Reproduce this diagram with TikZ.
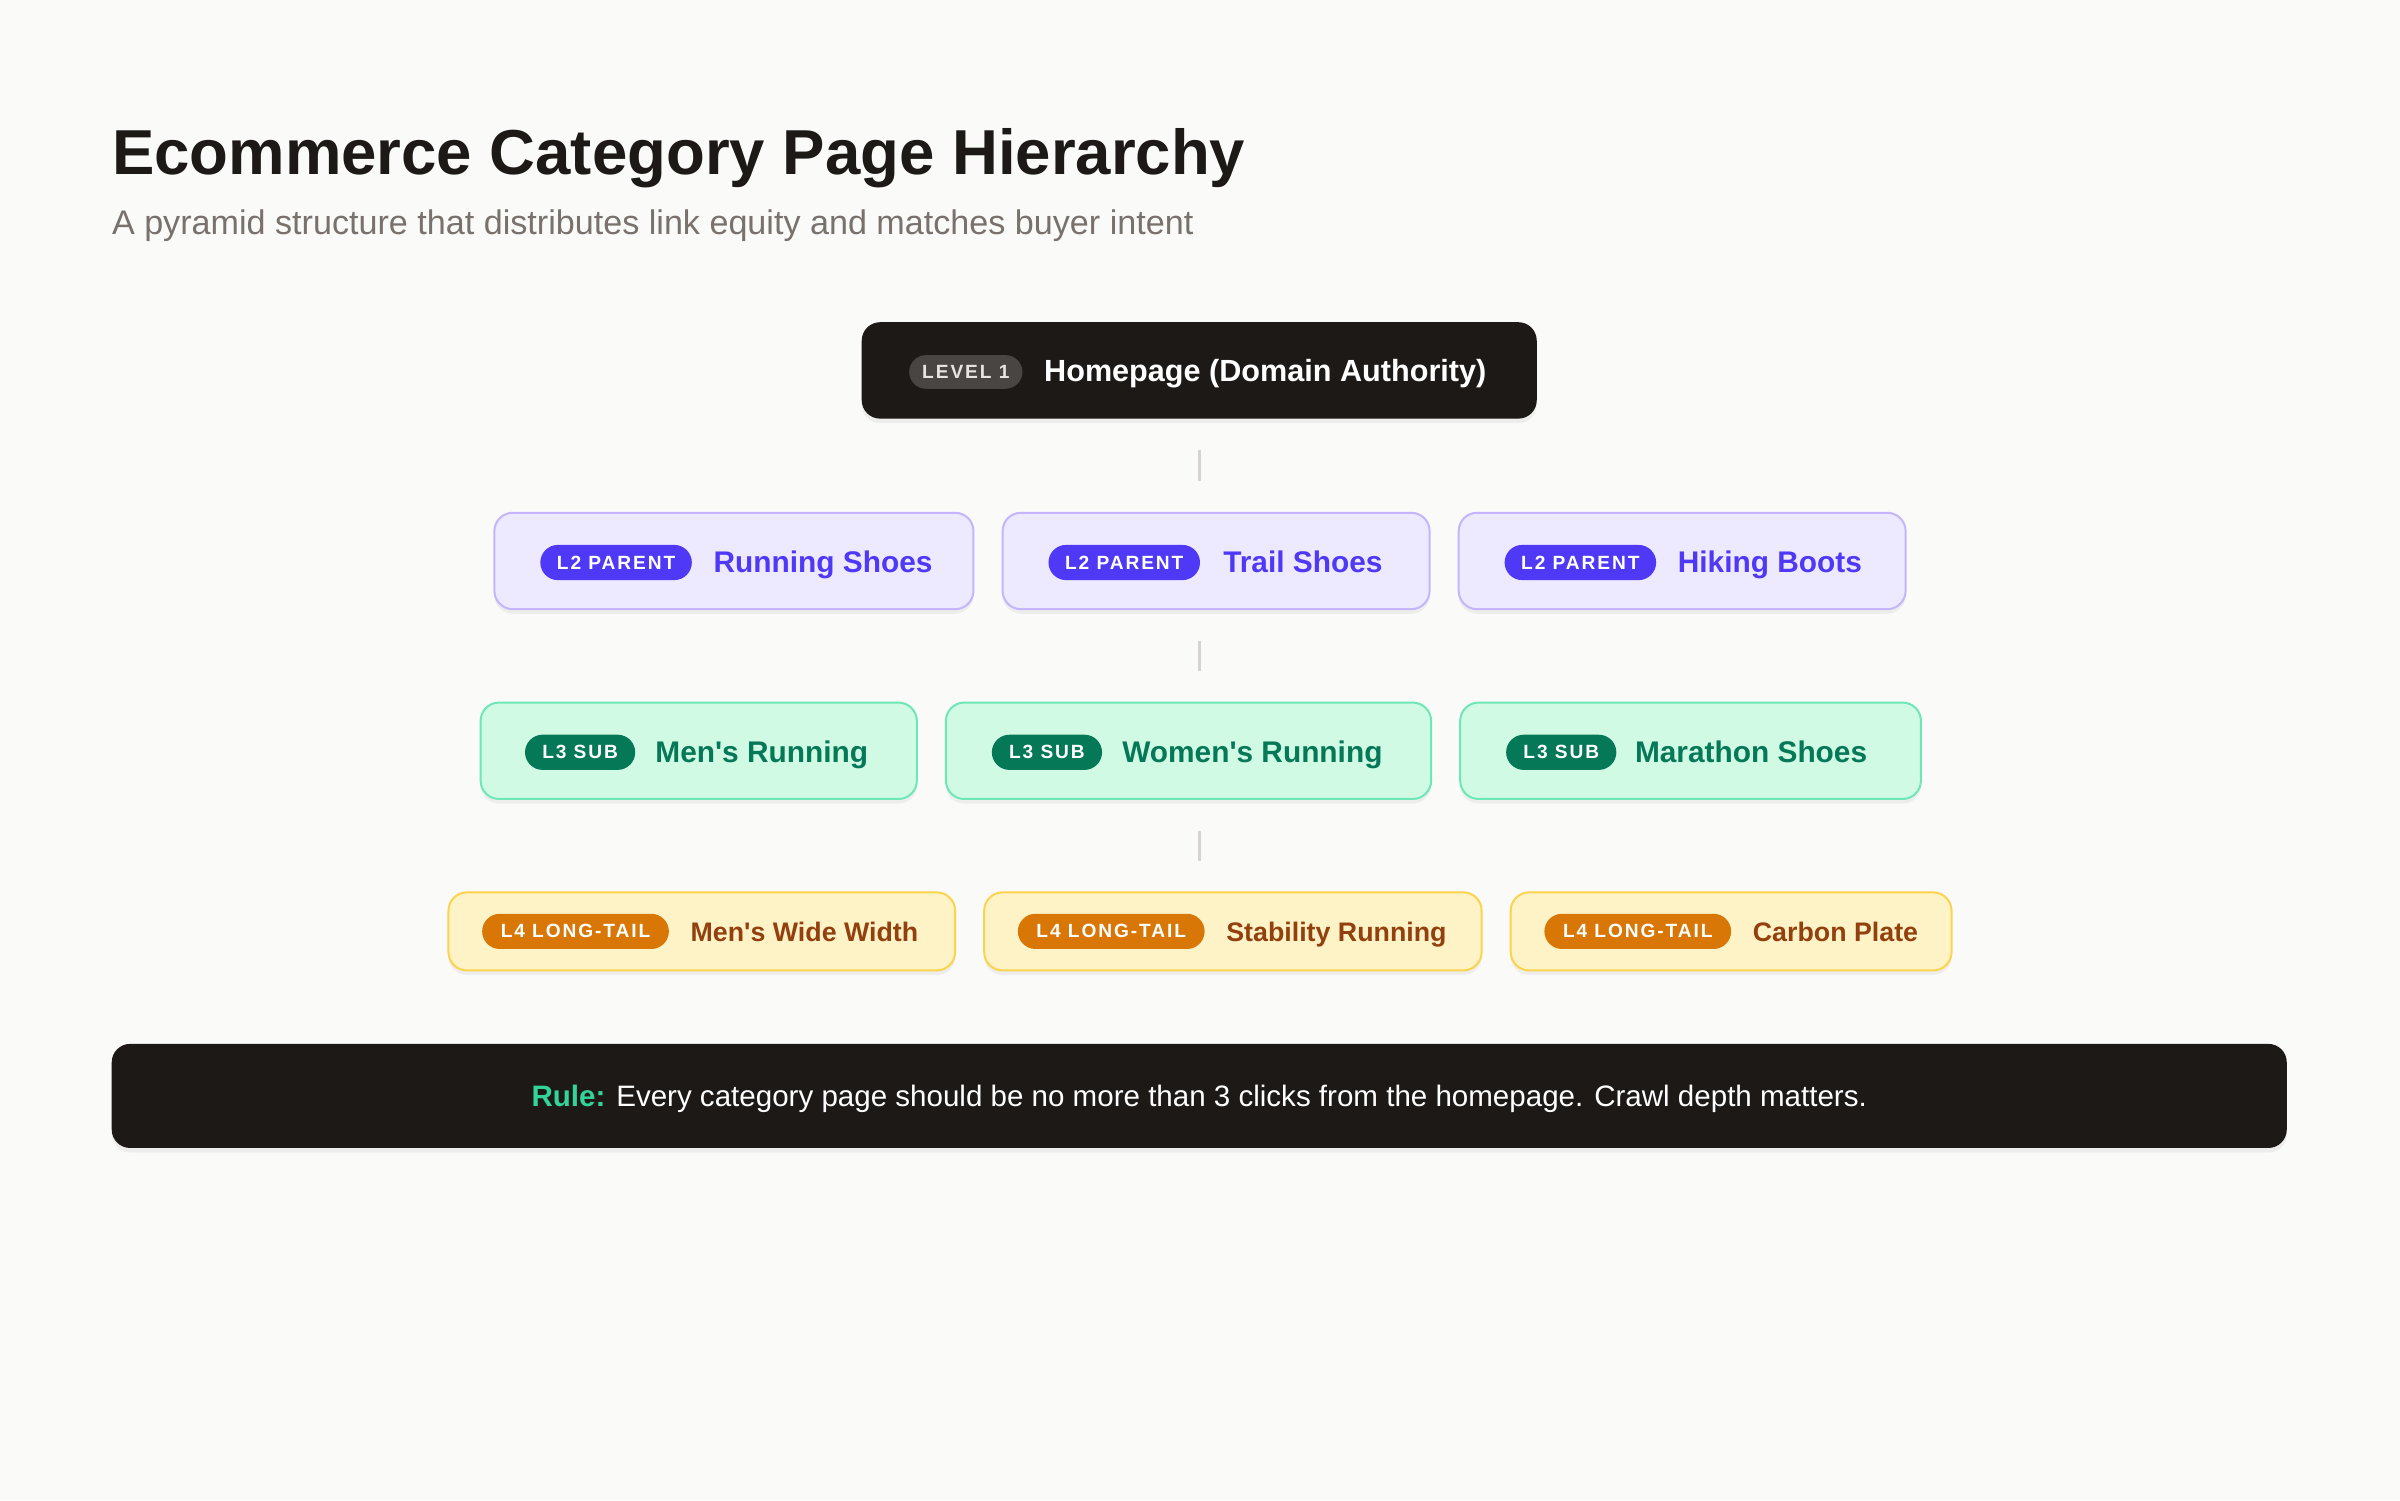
\documentclass[tikz,border=0pt]{standalone}
\usepackage{fontspec}
\setmainfont{Liberation Sans}
\newfontfamily\badgefont{Liberation Sans}[LetterSpace=10]
\usetikzlibrary{shadows}
\definecolor{bg}{HTML}{FAFAF9}
\definecolor{ink}{HTML}{1C1917}
\definecolor{subgray}{HTML}{78716C}
\definecolor{conn}{HTML}{D6D3D1}
\definecolor{lvbadge}{HTML}{494543}
\definecolor{lvtext}{HTML}{E7E5E4}
\definecolor{vfill}{HTML}{EDE9FE}
\definecolor{vline}{HTML}{C4B5FD}
\definecolor{vdark}{HTML}{4F39F6}
\definecolor{gfill}{HTML}{D1FAE5}
\definecolor{gline}{HTML}{6EE7B7}
\definecolor{gdark}{HTML}{047857}
\definecolor{yfill}{HTML}{FEF3C7}
\definecolor{yline}{HTML}{FCD34D}
\definecolor{ybadge}{HTML}{D97706}
\definecolor{ytext}{HTML}{92400E}
\definecolor{rulegreen}{HTML}{34D399}
\newcommand{\myfs}[1]{\fontsize{#1}{#1}\selectfont}
\newcommand{\apos}{\textquotesingle}
\tikzset{
  shad/.style={drop shadow={shadow xshift=0pt,shadow yshift=-3pt,opacity=0.05,fill=black}},
  card/.style={rounded corners=12pt, line width=1.3pt, inner sep=0pt, shad},
  darkcard/.style={card, fill=ink, draw=none},
  l2card/.style={card, fill=vfill, draw=vline, minimum height=63pt},
  l3card/.style={card, fill=gfill, draw=gline, minimum height=63pt},
  l4card/.style={card, fill=yfill, draw=yline, minimum height=51pt},
  pill/.style={rounded corners=11.5pt, inner sep=0pt, minimum height=23pt, text=white, font=\badgefont\bfseries\myfs{12.5}},
  l2pill/.style={pill, fill=vdark, minimum width=99pt},
  l3pill/.style={pill, fill=gdark, minimum width=72pt},
  l4pill/.style={pill, fill=ybadge, minimum width=122pt},
  lbl/.style={anchor=base west, inner sep=0pt, font=\bfseries\myfs{19.5}},
  l2lbl/.style={lbl, text=vdark},
  l3lbl/.style={lbl, text=gdark},
  l4lbl/.style={lbl, text=ytext, font=\bfseries\myfs{17.5}},
  connector/.style={draw=conn, line width=2pt, shorten <=20pt, shorten >=20pt},
}
\begin{document}
\begin{tikzpicture}[x=1pt,y=-1pt]
\fill[bg] (0,0) rectangle (1568,980);
\useasboundingbox (0,0) rectangle (1568,980);

% Title
\node[anchor=base west, inner sep=0pt, text=ink, font=\bfseries\myfs{41.5}] (title) at (73,114) {Ecommerce Category Page Hierarchy};
\node[anchor=base west, inner sep=0pt, text=subgray, font=\myfs{22.3}] (subtitle) at (73,153) {A pyramid structure that distributes link equity and matches buyer intent};

% Level 1
\node[darkcard, minimum width=441pt, minimum height=63pt] (l1) at (783.5,242) {};
\node[pill, fill=lvbadge, text=lvtext, minimum width=74pt, minimum height=22pt, rounded corners=11pt] (l1b) at (631,243) {LEVEL 1};
\node[lbl, text=white, font=\bfseries\myfs{20}] (l1t) at (682,249.5) {Homepage (Domain Authority)};

% Level 2
\node[l2card, minimum width=313pt] (rs) at (479.5,366.5) {};
\node[l2card, minimum width=279pt] (ts) at (794.5,366.5) {};
\node[l2card, minimum width=292pt] (hb) at (1099,366.5) {};
\node[l2pill] (rsb) at (402.5,367.5) {L2 PARENT};
\node[l2pill] (tsb) at (734.5,367.5) {L2 PARENT};
\node[l2pill] (hbb) at (1032.5,367.5) {L2 PARENT};
\node[l2lbl] (rst) at (466,374) {Running Shoes};
\node[l2lbl] (tst) at (799,374) {Trail Shoes};
\node[l2lbl] (hbt) at (1096,374) {Hiking Boots};

% Level 3
\node[l3card, minimum width=285pt] (mr) at (456.5,490.5) {};
\node[l3card, minimum width=317pt] (wr) at (776.5,490.5) {};
\node[l3card, minimum width=301pt] (ms) at (1104.5,490.5) {};
\node[l3pill] (mrb) at (379,491.5) {L3 SUB};
\node[l3pill] (wrb) at (684,491.5) {L3 SUB};
\node[l3pill] (msb) at (1020,491.5) {L3 SUB};
\node[l3lbl] (mrt) at (428,498) {Men\apos s Running};
\node[l3lbl] (wrt) at (733,498) {Women\apos s Running};
\node[l3lbl] (mst) at (1068,498) {Marathon Shoes};

% Level 4
\node[l4card, minimum width=331pt] (ww) at (458.5,608.5) {};
\node[l4card, minimum width=325pt] (sr) at (805.5,608.5) {};
\node[l4card, minimum width=288pt] (cp) at (1131,608.5) {};
\node[l4pill] (wwb) at (376,608.5) {L4 LONG-TAIL};
\node[l4pill] (srb) at (726,608.5) {L4 LONG-TAIL};
\node[l4pill] (cpb) at (1070,608.5) {L4 LONG-TAIL};
\node[l4lbl] (wwt) at (451,615) {Men\apos s Wide Width};
\node[l4lbl] (srt) at (801,615) {Stability Running};
\node[l4lbl] (cpt) at (1145,615) {Carbon Plate};

% Connectors
\draw[connector] (l1.south) -- (l1.south |- ts.north);
\draw[connector] (l1.south |- ts.south) -- (l1.south |- wr.north);
\draw[connector] (l1.south |- wr.south) -- (l1.south |- sr.north);

% Rule
\node[darkcard, minimum width=1421pt, minimum height=68pt] (rule) at (783.5,716) {};
\node[anchor=base, inner sep=0pt, text=white, font=\myfs{19.3}] (rulet) at (783.5,723) {\textcolor{rulegreen}{\bfseries Rule:} Every category page should be no more than 3 clicks from the homepage. Crawl depth matters.};
\end{tikzpicture}
\end{document}
